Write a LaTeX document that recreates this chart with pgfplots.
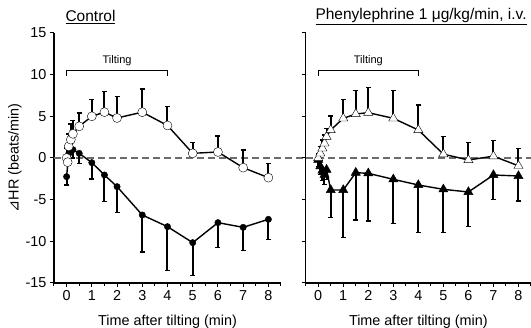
\documentclass[border=0pt]{standalone}
\usepackage{pgfplots}
\pgfplotsset{compat=1.18}
\usepackage{pgfplotstable}
\usepackage{fontspec}
\setmainfont{Liberation Sans}
\newfontfamily\dejavu{DejaVu Sans}

\pgfplotstableread{
x y e
0 0.0 1.2
0.04 -0.5 0.9
0.083 1.4 1.5
0.167 2.2 1.9
0.25 2.9 1.6
0.5 3.8 1.6
1 5.0 2.0
1.5 5.5 2.5
2 4.8 2.6
3 5.5 2.8
4 3.9 2.3
5 0.56 1.3
6 0.72 1.9
7 -1.16 2.1
8 -2.36 1.7
}\ctrlopen

\pgfplotstableread{
x y e
0 -2.24 1.0
0.083 0.5 1.0
0.167 2.0 1.5
0.25 1.0 1.0
0.5 0.56 1.2
1 -0.56 1.94
1.5 -2.04 3.16
2 -3.44 3.12
3 -6.84 4.46
4 -8.24 5.28
5 -10.16 3.96
6 -7.76 2.96
7 -8.32 2.8
8 -7.36 2.4
}\ctrlfill

\pgfplotstableread{
x y e
0 0.0 0.5
0.083 0.56 0.8
0.167 1.16 1.0
0.25 1.76 1.0
0.333 2.56 1.0
0.5 3.36 1.68
1 4.76 2.28
1.5 5.28 2.8
2 5.44 3.04
3 4.76 3.32
4 3.36 3.0
5 0.46 2.1
6 -0.24 2.08
7 0.22 1.86
8 -0.94 2.1
}\pheopen

\pgfplotstableread{
x y e
0 -0.2 0.8
0.083 -1.0 1.0
0.167 -1.5 1.2
0.25 -2.0 1.2
0.333 -1.4 1.2
0.5 -3.84 3.28
1 -3.84 5.72
1.5 -1.76 5.68
2 -1.84 5.72
3 -2.56 5.28
4 -3.24 5.72
5 -3.76 5.2
6 -4.08 4.16
7 -2.04 2.92
8 -2.16 3.0
}\phefill

\pgfplotsset{
  myax/.style={
    scale only axis, height=250pt,
    xmin=-0.5, xmax=8.5, ymin=-15, ymax=15,
    axis x line*=bottom, axis y line*=left,
    axis line style={line width=1.1pt, -},
    tick align=outside, major tick length=4pt, minor tick length=3pt,
    xtick={0,...,8}, minor xtick={-0.5,0.5,...,8.5},
    ytick={-15,-10,...,15},
    every tick/.style={black, line width=1pt},
    tick label style={font=\fontsize{14.4}{16}\selectfont},
    /pgf/number format/assume math mode=true,
    xlabel={Time after tilting (min)},
    every axis x label/.style={at={(axis description cs:0.5,-0.157)}, anchor=center, font=\fontsize{14.4}{16}\selectfont},
    clip=false,
  },
  ser/.style={black, solid, line width=1.4pt, mark=none,
    error bars/y explicit, error bars/y dir=#1,
    error bars/draw error bar/.code 2 args={%
      \draw[black, solid, line width=2pt] ##1 -- ##2;
      \draw[black, solid, line width=1.6pt] ##2 ++(-2.5pt,0) -- ++(5pt,0);
    }},
  mk/.style={only marks, black, mark options={solid, line width=1pt}},
}

\begin{document}
\begin{tikzpicture}
\path[use as bounding box] (0,0) rectangle (531pt,328pt);

\begin{axis}[myax, width=227pt, at={(54pt,45pt)}, anchor=south west,
  ylabel={{\dejavu ⊿}HR (beats/min)},
  every axis y label/.style={at={(axis description cs:-0.172,0.5)}, rotate=90, anchor=center, font=\fontsize{14.4}{16}\selectfont},
]
\addplot[gray!85!black, line width=1.3pt, dash pattern=on 7pt off 4pt] coordinates {(-0.5,0) (9.5,0)};
\addplot[black, line width=1pt] coordinates {(0,9.8) (0,10.44) (4,10.44) (4,9.8)};
\node[anchor=base, font=\fontsize{11}{12}\selectfont] at (axis cs:2,11.28) {Tilting};
\addplot[ser=minus] table[x=x, y=y, y error=e] {\ctrlfill};
\addplot[mk, mark=*, mark size=3.2pt, mark options={fill=black}] table[x=x, y=y] {\ctrlfill};
\addplot[ser=plus] table[x=x, y=y, y error=e] {\ctrlopen};
\addplot[mk, mark=*, mark size=4.5pt, mark options={fill=white}] table[x=x, y=y] {\ctrlopen};
\end{axis}

\begin{axis}[myax, width=225.3pt, at={(305.7pt,45pt)}, anchor=south west, yticklabels={}]
\addplot[gray!85!black, line width=1.3pt, dash pattern=on 7pt off 4pt] coordinates {(-0.5,0) (8.5,0)};
\addplot[black, line width=1pt] coordinates {(0,9.8) (0,10.44) (4,10.44) (4,9.8)};
\node[anchor=base, font=\fontsize{11}{12}\selectfont] at (axis cs:2,11.28) {Tilting};
\addplot[ser=minus] table[x=x, y=y, y error=e] {\phefill};
\addplot[mk, mark=triangle*, mark size=5.3pt, mark options={fill=black}] table[x=x, y=y] {\phefill};
\addplot[ser=plus] table[x=x, y=y, y error=e] {\pheopen};
\addplot[mk, mark=triangle*, mark size=5.3pt, mark options={fill=white}] table[x=x, y=y] {\pheopen};
\end{axis}

\node[anchor=base west, font=\fontsize{15.5}{17}\selectfont] at (62pt,306.3pt) {\underline{Control}};
\node[anchor=base west, font=\fontsize{15.5}{17}\selectfont] at (312pt,308pt) {\underline{Phenylephrine 1 μg/kg/min, i.v.}};
\end{tikzpicture}
\end{document}
